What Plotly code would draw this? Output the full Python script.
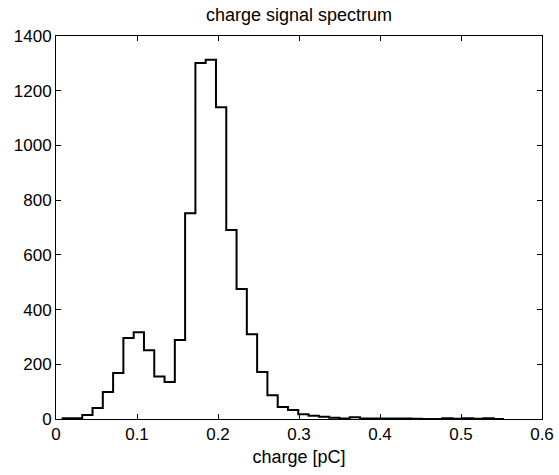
import plotly.graph_objects as go

bin_start = 0.007
bin_width = 0.0127
counts = [3, 3, 15, 40, 99, 168, 296, 317, 251, 155, 135, 289, 752, 1301, 1313,
          1140, 691, 475, 310, 172, 87, 44, 33, 17, 12, 8, 5, 2, 6, 2, 2, 2, 2, 2,
          1, 0, 0, 3, 1, 3, 1, 3, 0]
x_ticks = [0, 0.1, 0.2, 0.3, 0.4, 0.5, 0.6]
y_ticks = [0, 200, 400, 600, 800, 1000, 1200, 1400]

edges = [bin_start + bin_width * i for i in range(len(counts) + 1)]
ys = counts + [counts[-1]]

font = "Liberation Sans, Arial, Helvetica, sans-serif"

fig = go.Figure(go.Scatter(x=edges, y=ys, mode="lines", line_shape="hv",
                           line=dict(color="black", width=2), hoverinfo="skip"))

axis_common = dict(showline=True, linecolor="black", linewidth=1, mirror="ticks",
                   ticks="inside", ticklen=5, tickcolor="black", showgrid=False,
                   zeroline=False, automargin=False,
                   tickfont=dict(size=17, color="black", family=font))

fig.update_layout(
    width=559, height=475,
    margin=dict(l=56, r=17, t=36, b=56),
    paper_bgcolor="white", plot_bgcolor="white",
    showlegend=False,
    title=dict(text="charge signal spectrum", x=0.535, xanchor="center", y=0.97, yanchor="middle",
               font=dict(size=18, color="black", family=font)),
    xaxis=dict(range=[0, 0.6], tickvals=x_ticks, ticktext=[str(v) for v in x_ticks],
               title=dict(text="charge [pC]", font=dict(size=18, color="black", family=font), standoff=6),
               **axis_common),
    yaxis=dict(range=[0, 1400], tickvals=y_ticks, **axis_common),
)

fig.write_html("out.html", config={"displayModeBar": False},
               post_script="document.body.style.margin='0';document.body.style.padding='0';")
